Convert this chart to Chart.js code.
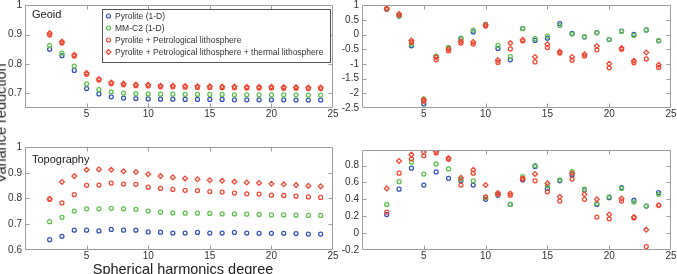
<!DOCTYPE html>
<html><head><meta charset="utf-8">
<script src="https://cdn.jsdelivr.net/npm/chart.js@4/dist/chart.umd.min.js"></script>
<style>
html,body{margin:0;padding:0;background:#fff;overflow:hidden;width:677px;height:274px;position:relative;}
canvas{position:absolute;}
.lab{position:absolute;font:14.5px "Liberation Sans",Arial,Helvetica,sans-serif;line-height:14.5px;height:14.5px;color:#222;text-align:center;white-space:nowrap;}
</style></head><body>
<canvas id="tl" width="340" height="125" style="left:0;top:0;width:340px;height:125px"></canvas>
<canvas id="tr" width="340" height="125" style="left:337px;top:0;width:340px;height:125px"></canvas>
<canvas id="bl" width="340" height="144" style="left:0;top:130px;width:340px;height:144px"></canvas>
<canvas id="br" width="340" height="144" style="left:337px;top:130px;width:340px;height:144px"></canvas>
<div class="lab" style="width:200px;left:-99.5px;top:115.75px;transform:rotate(-90deg);">Variance reduction</div>
<div class="lab" style="width:300px;left:33px;top:261.8px;">Spherical harmonics degree</div>
<script>
// ---------- data ----------
const degrees = [2,3,4,5,6,7,8,9,10,11,12,13,14,15,16,17,18,19,20,21,22,23,24];
const seriesNames = ["Pyrolite (1-D)", "MM-C2 (1-D)", "Pyrolite + Petrological lithosphere", "Pyrolite + Petrological lithosphere + thermal lithosphere"];
const xTicks = [5,10,15,20,25];

// Geoid, cumulative (top left)
const geoidCumPyrolite = [0.850,0.828,0.778,0.716,0.698,0.688,0.684,0.682,0.681,0.680,0.680,0.679,0.679,0.679,0.679,0.678,0.678,0.678,0.678,0.678,0.677,0.677,0.677];
const geoidCumMMC2     = [0.863,0.837,0.793,0.732,0.713,0.705,0.701,0.699,0.698,0.697,0.697,0.696,0.696,0.696,0.696,0.695,0.695,0.695,0.695,0.695,0.695,0.694,0.694];
const geoidCumPetro    = [0.899,0.871,0.827,0.765,0.745,0.733,0.729,0.726,0.725,0.722,0.722,0.721,0.720,0.720,0.719,0.719,0.718,0.718,0.718,0.717,0.717,0.716,0.716];
const geoidCumThermal  = [0.905,0.876,0.831,0.769,0.749,0.737,0.733,0.730,0.729,0.726,0.726,0.725,0.724,0.724,0.723,0.723,0.722,0.722,0.722,0.721,0.721,0.720,0.720];
const geoidCumTicks = [0.7,0.8,0.9,1];

// Geoid, per degree (top right)
const geoidDegPyrolite = [0.86,0.63,-0.38,-2.36,-0.75,-0.46,-0.14,0.09,0.35,-0.47,-0.86,0.21,-0.20,-0.12,0.37,0.04,-0.08,0.07,-0.17,0.12,0.01,0.16,-0.21];
const geoidDegMMC2     = [0.87,0.65,-0.32,-2.19,-0.73,-0.44,-0.12,0.15,0.34,-0.37,-0.75,0.20,-0.14,-0.05,0.31,0.02,-0.07,0.06,-0.16,0.11,-0.03,0.15,-0.20];
const geoidDegPetro    = [0.88,0.67,-0.26,-2.27,-0.86,-0.55,-0.29,-0.32,0.29,-0.95,-0.49,-0.21,-0.93,-0.44,-0.63,-0.87,-0.73,-0.52,-1.13,-0.50,-0.96,-0.83,-1.12];
const geoidDegThermal  = [0.90,0.70,-0.20,-2.22,-0.77,-0.49,-0.23,-0.25,0.33,-0.87,-0.29,-0.18,-0.76,-0.33,-0.58,-0.76,-0.67,-0.39,-0.99,-0.46,-0.89,-0.61,-1.03];
const geoidDegTicks = [-2.5,-2,-1.5,-1,-0.5,0,0.5,1];

// Topography, cumulative (bottom left)
const topoCumPyrolite = [0.640,0.653,0.677,0.677,0.674,0.680,0.677,0.677,0.670,0.669,0.666,0.666,0.668,0.666,0.666,0.668,0.666,0.665,0.665,0.665,0.664,0.662,0.662];
const topoCumMMC2     = [0.710,0.727,0.751,0.760,0.760,0.762,0.760,0.758,0.751,0.747,0.744,0.743,0.743,0.742,0.740,0.740,0.739,0.738,0.736,0.736,0.735,0.734,0.734];
const topoCumPetro    = [0.797,0.783,0.815,0.851,0.852,0.860,0.856,0.855,0.844,0.839,0.835,0.832,0.831,0.827,0.825,0.821,0.818,0.817,0.813,0.812,0.809,0.806,0.804];
const topoCumThermal  = [0.799,0.864,0.887,0.912,0.913,0.912,0.906,0.903,0.894,0.887,0.882,0.878,0.875,0.871,0.869,0.865,0.862,0.860,0.857,0.855,0.852,0.849,0.847];
const topoCumTicks = [0.6,0.7,0.8,0.9,1];

// Topography, per degree (bottom right)
const topoDegPyrolite = [0.22,0.52,0.77,0.57,0.725,0.65,0.62,0.57,0.40,0.45,0.34,0.63,0.79,0.53,0.62,0.69,0.51,0.34,0.42,0.54,0.39,0.32,0.48];
const topoDegMMC2     = [0.34,0.61,0.84,0.70,0.82,0.76,0.64,0.62,0.42,0.46,0.34,0.67,0.80,0.56,0.63,0.73,0.52,0.35,0.43,0.53,0.37,0.32,0.46];
const topoDegPetro    = [0.25,0.71,0.88,0.918,0.95,0.875,0.57,0.71,0.43,0.46,0.45,0.65,0.62,0.49,0.38,0.64,0.40,0.19,0.17,0.38,0.18,-0.16,0.33];
const topoDegThermal  = [0.53,0.855,0.93,0.96,0.97,0.89,0.655,0.75,0.57,0.475,0.47,0.64,0.70,0.59,0.43,0.71,0.46,0.40,0.22,0.41,0.19,0.04,0.33];
const topoDegTicks = [-0.2,0,0.2,0.4,0.6,0.8];

// ---------- styling ----------
const FONT = '"Liberation Sans", Arial, Helvetica, sans-serif';
const colors = ['#3352b8', '#5cc04a', '#f24630', '#f24630'];
const styles = ['circle', 'circle', 'circle', 'rectRot'];

const mplBox = {
  id: 'mplBox',
  afterDatasetsDraw(chart, args, o) {
    const ctx = chart.ctx, a = chart.chartArea, xs = chart.scales.x, ys = chart.scales.y;
    ctx.save();
    ctx.strokeStyle = '#9c9c9c'; ctx.lineWidth = 1;
    const L = Math.round(a.left) + 0.5, R = Math.round(a.right) - 0.5, T = Math.round(a.top) + 0.5, B = Math.round(a.bottom) - 0.5;
    ctx.beginPath();
    ctx.rect(L, T, R - L, B - T);
    const tl = 4;
    xs.ticks.forEach(t => { const p = Math.round(xs.getPixelForValue(t.value)) + 0.5; if (p > L + 1 && p < R - 1) { ctx.moveTo(p, B); ctx.lineTo(p, B - tl); ctx.moveTo(p, T); ctx.lineTo(p, T + tl); } });
    ys.ticks.forEach(t => { const p = Math.round(ys.getPixelForValue(t.value)) + 0.5; if (p > T + 1 && p < B - 1) { ctx.moveTo(L, p); ctx.lineTo(L + tl, p); ctx.moveTo(R, p); ctx.lineTo(R - tl, p); } });
    ctx.stroke();
    if (o.title) {
      ctx.fillStyle = '#222'; ctx.font = '11px ' + FONT; ctx.textBaseline = 'alphabetic'; ctx.textAlign = 'left';
      ctx.fillText(o.title, o.titleX, o.titleY);
    }
    if (o.legend) {
      const bx = 102.5, by = 9.5, bw = 228, bh = 53;
      ctx.fillStyle = '#fff'; ctx.fillRect(bx, by, bw, bh);
      ctx.strokeStyle = '#555'; ctx.strokeRect(bx, by, bw, bh);
      ctx.font = '8.5px ' + FONT; ctx.textBaseline = 'middle';
      seriesNames.forEach((n, i) => {
        const y = 16 + 12 * i, x = 108.5;
        ctx.strokeStyle = colors[i]; ctx.lineWidth = 1.2;
        ctx.beginPath();
        if (styles[i] === 'circle') ctx.arc(x, y, 2, 0, Math.PI * 2);
        else { ctx.moveTo(x, y - 2.4); ctx.lineTo(x + 2.4, y); ctx.lineTo(x, y + 2.4); ctx.lineTo(x - 2.4, y); ctx.closePath(); }
        ctx.stroke();
        ctx.fillStyle = '#333';
        ctx.fillText(n, 115, y + 0.5);
      });
    }
    ctx.restore();
  }
};

function fmt(v) { return String(Math.round(v * 100) / 100); }

function makePanel(id, W, H, area, ymin, ymax, yTicks, data, extra) {
  const datasets = data.map((arr, i) => ({
    label: seriesNames[i],
    data: degrees.map((d, k) => ({ x: d, y: arr[k] })),
    pointStyle: styles[i],
    pointRadius: styles[i] === 'circle' ? 2 : 2.4,
    pointBorderWidth: 1.25,
    pointBorderColor: colors[i],
    pointBackgroundColor: 'rgba(0,0,0,0)',
    showLine: false,
    order: 3 - i
  }));
  return new Chart(document.getElementById(id), {
    type: 'scatter',
    data: { datasets },
    options: {
      responsive: false, animation: false, devicePixelRatio: 1,
      layout: { padding: { left: 0, top: area.top, right: W - area.right, bottom: 0 } },
      plugins: { legend: { display: false }, tooltip: { enabled: false }, mplBox: extra },
      scales: {
        x: {
          type: 'linear', min: 0, max: 25,
          grid: { display: false, drawTicks: false }, border: { display: false },
          afterBuildTicks: s => { s.ticks = xTicks.map(v => ({ value: v })); },
          afterFit: s => { s.height = H - area.bottom; s.paddingLeft = 0; s.paddingRight = 0; s.paddingTop = 0; s.paddingBottom = 0; },
          ticks: { padding: 0, autoSkip: false, color: '#333', font: { size: 10, family: FONT }, maxRotation: 0, callback: v => fmt(v) }
        },
        y: {
          type: 'linear', min: ymin, max: ymax,
          grid: { display: false, drawTicks: false }, border: { display: false },
          afterBuildTicks: s => { s.ticks = yTicks.map(v => ({ value: v })); },
          afterFit: s => { s.width = area.left; s.paddingLeft = 0; s.paddingRight = 0; s.paddingTop = 0; s.paddingBottom = 0; },
          ticks: { padding: 3, autoSkip: false, color: '#333', font: { size: 10, family: FONT }, callback: v => fmt(v) }
        }
      }
    },
    plugins: [mplBox]
  });
}

makePanel('tl', 340, 125, { left: 25, top: 4, right: 333, bottom: 108 }, 0.65, 1, geoidCumTicks,
  [geoidCumPyrolite, geoidCumMMC2, geoidCumPetro, geoidCumThermal],
  { title: 'Geoid', titleX: 32, titleY: 18, legend: true });
makePanel('tr', 340, 125, { left: 25, top: 4, right: 334, bottom: 108 }, -2.5, 1, geoidDegTicks,
  [geoidDegPyrolite, geoidDegMMC2, geoidDegPetro, geoidDegThermal], {});
makePanel('bl', 340, 144, { left: 25, top: 17, right: 333, bottom: 120 }, 0.6, 1, topoCumTicks,
  [topoCumPyrolite, topoCumMMC2, topoCumPetro, topoCumThermal],
  { title: 'Topography', titleX: 32, titleY: 33 });
makePanel('br', 340, 144, { left: 25, top: 20, right: 334, bottom: 120 }, -0.2, 0.985, topoDegTicks,
  [topoDegPyrolite, topoDegMMC2, topoDegPetro, topoDegThermal], {});
</script>
</body></html>
